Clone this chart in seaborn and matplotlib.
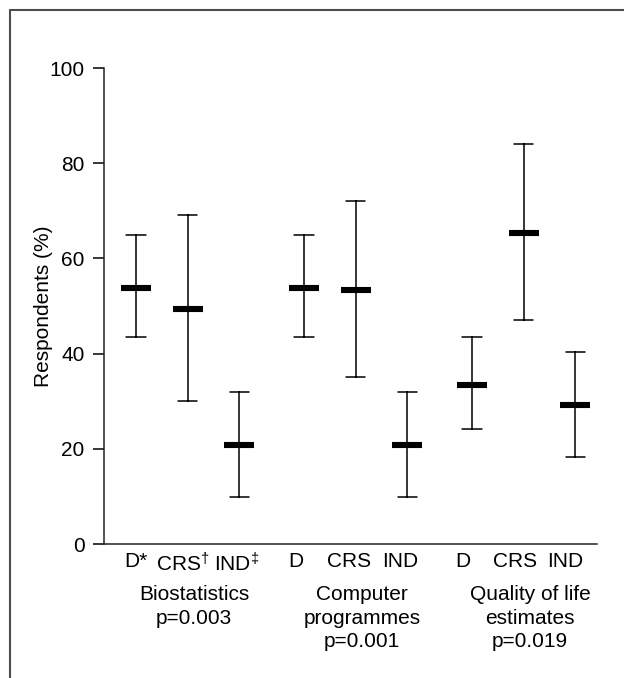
import numpy as np
import pandas as pd
import seaborn as sns
import matplotlib
matplotlib.use("Agg")
import matplotlib.pyplot as plt
from matplotlib.lines import Line2D
import matplotlib.transforms as mtransforms

# ---- data ----
groups = ["Biostatistics\np=0.003", "Computer\nprogrammes\np=0.001", "Quality of life\nestimates\np=0.019"]
methods = ["D", "CRS", "IND"]
tick_labels = ["D*", r"CRS$^{\dagger}$", r"IND$^{\ddagger}$",
               "D", "CRS", "IND", "D", "CRS", "IND"]
means = [53.7, 49.3, 20.8, 53.7, 53.3, 20.8, 33.3, 65.3, 29.1]
lowers = [43.5, 30.0, 9.8, 43.5, 35.0, 9.8, 24.2, 47.1, 18.2]
uppers = [65.0, 69.2, 32.0, 65.0, 72.0, 32.0, 43.5, 84.0, 40.3]
yticks = [0, 20, 40, 60, 80, 100]
ylabel = "Respondents (%)"

# ---- layout (positions) ----
group_step = 3.25
xpos = [g * group_step + j for g in range(len(groups)) for j in range(len(methods))]
label_shift_px = [0, -5, -3, -8, -7, -7, -9, -9, -10]

rows = []
for i, x in enumerate(xpos):
    for v in (lowers[i], means[i], uppers[i]):
        rows.append({"x": x, "value": v})
df = pd.DataFrame(rows)

sns.set_theme(style="ticks")
plt.rcParams["font.family"] = ["Liberation Sans", "DejaVu Sans"]
plt.rcParams["mathtext.fontset"] = "custom"
plt.rcParams["mathtext.rm"] = "Liberation Sans"
plt.rcParams["mathtext.it"] = "Liberation Sans:italic"
plt.rcParams["mathtext.bf"] = "Liberation Sans:bold"

FS = 15
W, H = 624, 678
fig = plt.figure(figsize=(W / 100, H / 100), dpi=100)
ax_left, ax_right, ax_bottom, ax_top = 104, 597, 544, 68
ax = fig.add_axes([ax_left / W, 1 - ax_bottom / H, (ax_right - ax_left) / W, (ax_bottom - ax_top) / H])

sns.pointplot(data=df, x="x", y="value", estimator="median",
              errorbar=lambda v: (v.min(), v.max()),
              native_scale=True, orient="x", color="black",
              linestyle="none", marker="_", markersize=21.6, markeredgewidth=4.4,
              capsize=0.37, err_kws={"linewidth": 1.1, "color": "black"}, ax=ax)

unit = (472 - 136) / 6.5
ax.set_xlim(-(136 - ax_left) / unit, (ax_right - 136) / unit)
ax.set_ylim(0, 100)
ax.set_yticks(yticks)
ax.set_yticklabels([str(t) for t in yticks])
ax.set_xticks(xpos)
ax.set_xticklabels(tick_labels)
ax.tick_params(axis="x", length=0, pad=6, labelsize=FS, colors="black")
ax.tick_params(axis="y", length=8, width=1.1, pad=6, labelsize=FS, colors="black")
for lab, dx in zip(ax.get_xticklabels(), label_shift_px):
    lab.set_transform(lab.get_transform() + mtransforms.ScaledTranslation(dx / 100, 0, fig.dpi_scale_trans))
ax.set_xlabel("")
ax.set_ylabel(ylabel, fontsize=FS, color="black")
ax.yaxis.set_label_coords((53 - ax_left) / (ax_right - ax_left), 0.5)
sns.despine(ax=ax)
for s in ("left", "bottom"):
    ax.spines[s].set_linewidth(1.1)
    ax.spines[s].set_color("#222222")

trans = mtransforms.blended_transform_factory(ax.transData, ax.transAxes)
for g, name in enumerate(groups):
    cx = g * group_step + 1 + 0.12
    ax.text(cx, (ax_bottom - 585) / (ax_bottom - ax_top), name, transform=trans,
            ha="center", va="top", fontsize=FS, linespacing=1.3, color="black")

# frame (top and left border lines)
fx, fy = 10 / W, 1 - 10 / H
fig.add_artist(Line2D([fx, fx], [0, fy], transform=fig.transFigure, color="#4d4d4d", linewidth=1.5))
fig.add_artist(Line2D([fx, 1], [fy, fy], transform=fig.transFigure, color="#4d4d4d", linewidth=1.5))

fig.savefig("out.png", dpi=100, facecolor="white")
